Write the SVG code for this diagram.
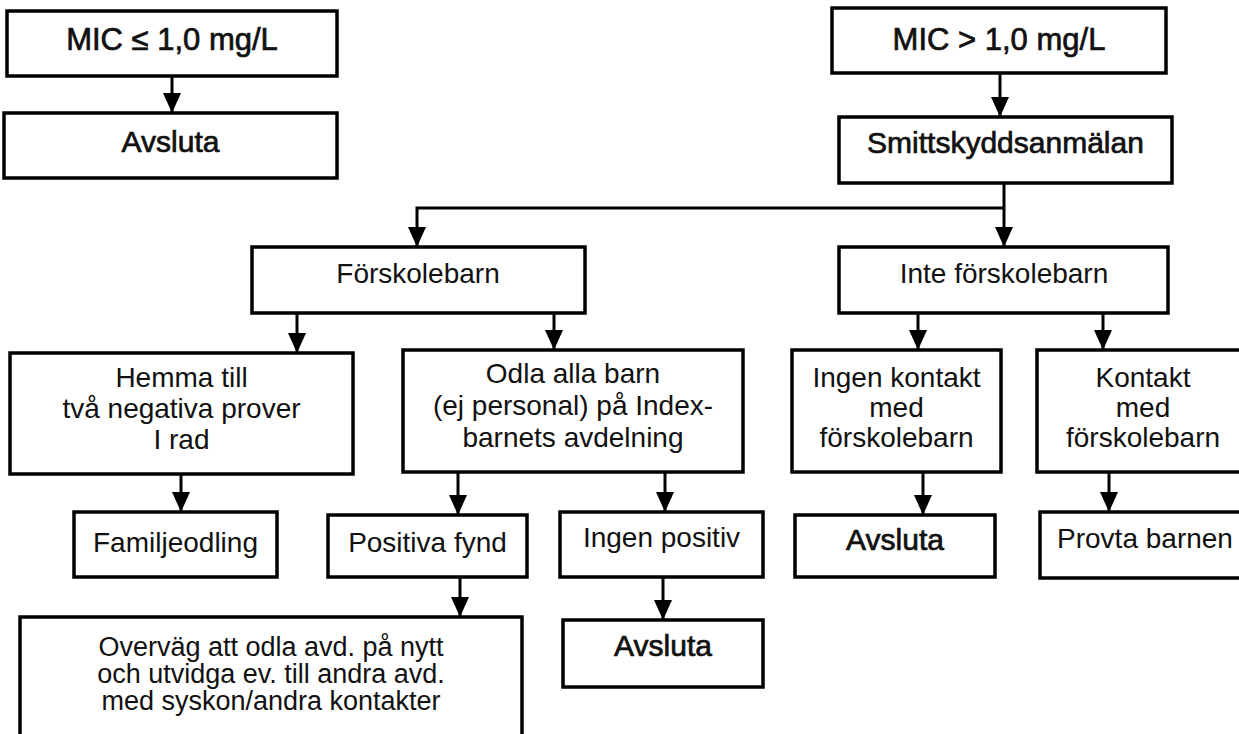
<svg xmlns="http://www.w3.org/2000/svg" width="1239" height="734" viewBox="0 0 1239 734">
<style>
.box{fill:#fff;stroke:#000;stroke-width:3.5}
.t{font-family:"Liberation Sans",Arial,sans-serif;font-size:28px;fill:#111;text-anchor:middle}
.b{font-size:30px;stroke:#111;stroke-width:0.7}
.m{font-size:31px}
.s{font-size:27px}
.c{fill:none;stroke:#000;stroke-width:3}
</style>
<defs>
<marker id="ah" markerUnits="userSpaceOnUse" viewBox="0 0 20 18" markerWidth="20" markerHeight="18" refX="20" refY="9" orient="auto">
<path d="M0,0 L20,9 L0,18 z" fill="#000"/>
</marker>
</defs>
<rect width="1239" height="734" fill="#fff"/>
<g id="connectors">
<path class="c" d="M172,76 V113" marker-end="url(#ah)"/>
<path class="c" d="M1000,73 V117" marker-end="url(#ah)"/>
<path class="c" d="M1004,183 V247" marker-end="url(#ah)"/>
<path class="c" d="M1004,208 H417 V247" marker-end="url(#ah)"/>
<path class="c" d="M297,313 V353" marker-end="url(#ah)"/>
<path class="c" d="M554,313 V350" marker-end="url(#ah)"/>
<path class="c" d="M918,313 V350" marker-end="url(#ah)"/>
<path class="c" d="M1103,313 V350" marker-end="url(#ah)"/>
<path class="c" d="M181,474 V512" marker-end="url(#ah)"/>
<path class="c" d="M458,472 V515" marker-end="url(#ah)"/>
<path class="c" d="M665,472 V512" marker-end="url(#ah)"/>
<path class="c" d="M923,472 V515" marker-end="url(#ah)"/>
<path class="c" d="M1109,472 V512" marker-end="url(#ah)"/>
<path class="c" d="M460,577 V617" marker-end="url(#ah)"/>
<path class="c" d="M663,577 V620" marker-end="url(#ah)"/>
</g>
<g id="n1"><rect class="box" x="7" y="11" width="330" height="65"/><text class="t b m" x="172" y="50">MIC ≤ 1,0 mg/L</text></g>
<g id="n2"><rect class="box" x="4" y="113" width="333" height="65"/><text class="t b" x="170.5" y="152">Avsluta</text></g>
<g id="n3"><rect class="box" x="832" y="8" width="334" height="65"/><text class="t b m" x="999" y="50">MIC &gt; 1,0 mg/L</text></g>
<g id="n4"><rect class="box" x="839" y="117" width="333" height="66"/><text class="t b" x="1005.5" y="153">Smittskyddsanmälan</text></g>
<g id="n5"><rect class="box" x="252" y="247" width="333" height="66"/><text class="t" x="418" y="283">Förskolebarn</text></g>
<g id="n6"><rect class="box" x="839" y="247" width="329" height="66"/><text class="t" x="1004" y="283">Inte förskolebarn</text></g>
<g id="n7"><rect class="box" x="10" y="353" width="343" height="121"/><text class="t" x="181.5" y="387">Hemma till</text><text class="t" x="181.5" y="418">två negativa prover</text><text class="t" x="181.5" y="449">I rad</text></g>
<g id="n8"><rect class="box" x="403" y="350" width="340" height="122"/><text class="t" x="573" y="383">Odla alla barn</text><text class="t" x="573" y="415">(ej personal) på Index-</text><text class="t" x="573" y="447">barnets avdelning</text></g>
<g id="n9"><rect class="box" x="792" y="350" width="209" height="122"/><text class="t" x="896.5" y="387">Ingen kontakt</text><text class="t" x="896.5" y="417">med</text><text class="t" x="896.5" y="447">förskolebarn</text></g>
<g id="n10"><rect class="box" x="1037" y="350" width="213" height="122"/><text class="t" x="1143" y="387">Kontakt</text><text class="t" x="1143" y="417">med</text><text class="t" x="1143" y="447">förskolebarn</text></g>
<g id="n11"><rect class="box" x="74" y="512" width="203" height="65"/><text class="t" x="175.5" y="552">Familjeodling</text></g>
<g id="n12"><rect class="box" x="328" y="515" width="199" height="62"/><text class="t" x="427.5" y="552">Positiva fynd</text></g>
<g id="n13"><rect class="box" x="560" y="512" width="203" height="65"/><text class="t" x="661.5" y="547">Ingen positiv</text></g>
<g id="n14"><rect class="box" x="795" y="515" width="200" height="62"/><text class="t b" x="895" y="550">Avsluta</text></g>
<g id="n15"><rect class="box" x="1040" y="512" width="210" height="66"/><text class="t" x="1145" y="548">Provta barnen</text></g>
<g id="n16"><rect class="box" x="20" y="617" width="502" height="130"/><text class="t s" x="271" y="656">Overväg att odla avd. på nytt</text><text class="t s" x="271" y="683">och utvidga ev. till andra avd.</text><text class="t s" x="271" y="710">med syskon/andra kontakter</text></g>
<g id="n17"><rect class="box" x="563" y="620" width="200" height="67"/><text class="t b" x="663" y="656">Avsluta</text></g>
</svg>
